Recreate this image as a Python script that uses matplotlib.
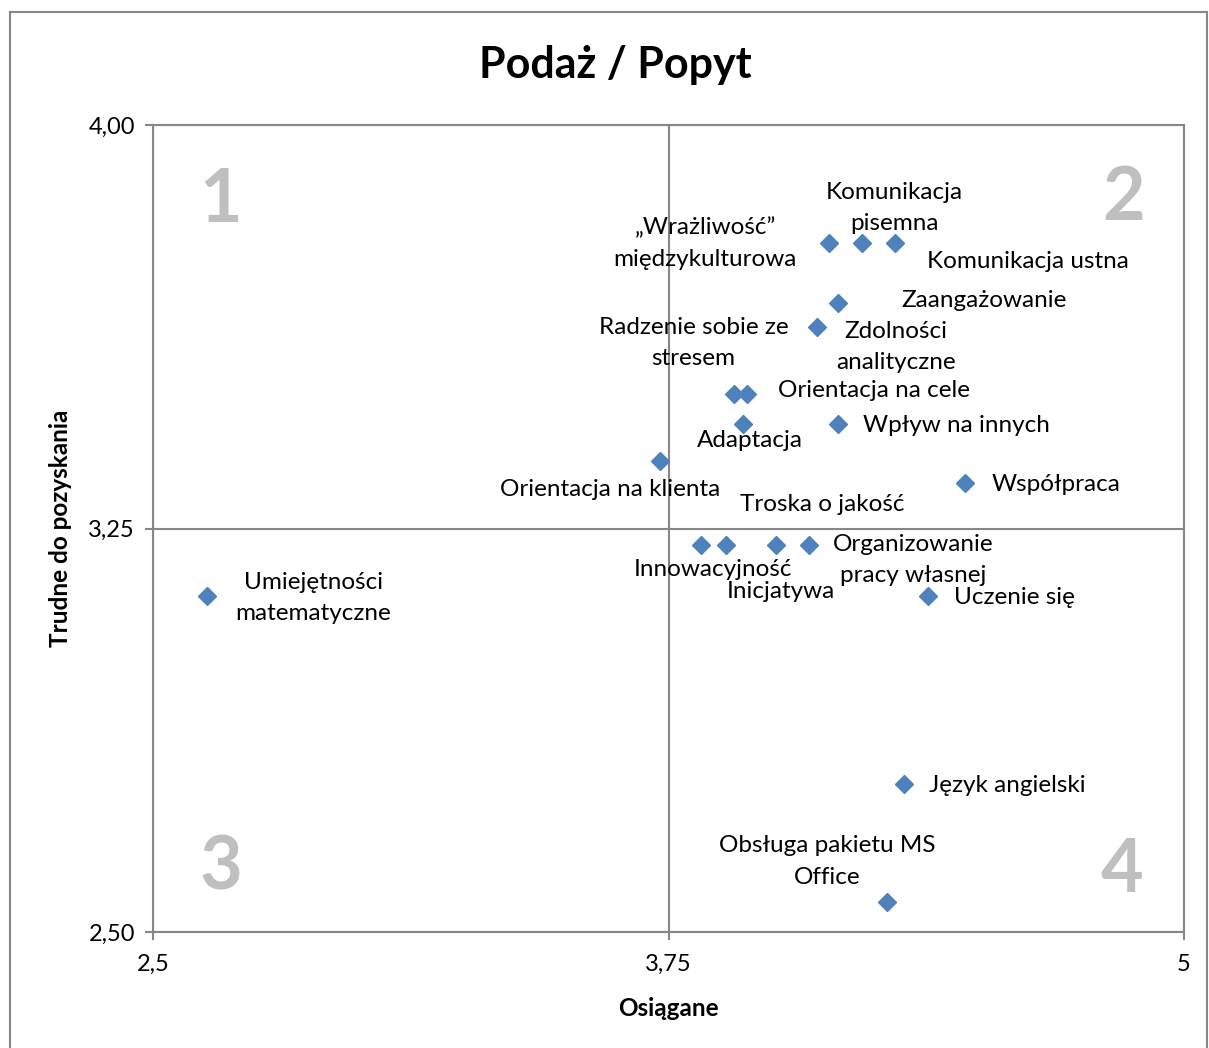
import matplotlib
matplotlib.use("Agg")
import matplotlib.pyplot as plt
from matplotlib.patches import Rectangle

plt.rcParams['font.family'] = ['Lato', 'DejaVu Sans']

labels = [
    "„Wrażliwość”\nmiędzykulturowa", "Komunikacja\npisemna", "Komunikacja ustna",
    "Zaangażowanie", "Zdolności\nanalityczne", "Radzenie sobie ze\nstresem",
    "Orientacja na cele", "Adaptacja", "Wpływ na innych", "Orientacja na klienta",
    "Współpraca", "Innowacyjność", "Troska o jakość", "Inicjatywa",
    "Organizowanie\npracy własnej", "Uczenie się", "Umiejętności\nmatematyczne",
    "Język angielski", "Obsługa pakietu MS\nOffice",
]
osiagane = [4.14, 4.22, 4.30, 4.16, 4.11, 3.91, 3.94, 3.93, 4.16, 3.73,
            4.47, 3.83, 3.89, 4.01, 4.09, 4.38, 2.63, 4.32, 4.28]
trudne = [3.78, 3.78, 3.78, 3.67, 3.625, 3.50, 3.50, 3.445, 3.445, 3.375,
          3.335, 3.22, 3.22, 3.22, 3.22, 3.125, 3.125, 2.775, 2.555]

# label offsets in pixels (dx right, dy down) from each point to the label centre
offsets_px = [(-124, 0), (32, -35), (133, 18), (146, -2), (79, 20), (-41, -51),
              (127, -3), (7, 17), (119, 2), (-50, 28), (91, 2), (12, 25),
              (96, -40), (5, 47), (104, 15), (86, 2), (107, 2), (104, 1), (-60, -41)]

x_ticks = [2.5, 3.75, 5.0]
x_ticklabels = ["2,5", "3,75", "5"]
y_ticks = [2.5, 3.25, 4.0]
y_ticklabels = ["2,50", "3,25", "4,00"]

W, H = 1209, 1048
fig = plt.figure(figsize=(W / 100, H / 100), dpi=100)
ax = fig.add_axes([153 / W, 1 - 932 / H, 1031 / W, 807 / H])

grey = "#878787"
ax.set_xlim(2.5, 5.0)
ax.set_ylim(2.5, 4.0)
ax.set_xticks(x_ticks)
ax.set_xticklabels(x_ticklabels)
ax.set_yticks(y_ticks)
ax.set_yticklabels(y_ticklabels)
ax.tick_params(axis='both', labelsize=17, color=grey, width=1.5, length=6,
               direction='out')
ax.tick_params(axis='x', pad=10)
ax.tick_params(axis='y', pad=7)
for s in ax.spines.values():
    s.set_color(grey)
    s.set_linewidth(1.5)
ax.grid(True, color=grey, linewidth=1.5)
ax.set_axisbelow(True)

ax.plot(osiagane, trudne, linestyle='none', marker='D', markersize=9,
        color="#4F81BD", zorder=3)

for x, y, t, (dx, dy) in zip(osiagane, trudne, labels, offsets_px):
    ax.annotate(t, (x, y), xytext=(dx * 0.72, -dy * 0.72), textcoords='offset points',
                ha='center', va='center', fontsize=17.5, linespacing=1.6, color='black')

# quadrant numbers
qcol = "#BFBFBF"
for t, (px, py) in zip(["1", "2", "3", "4"], [(221, 200), (1124, 198), (221, 868), (1122, 870)]):
    fig.text(px / W, 1 - py / H, t, fontsize=53, fontweight='bold', color=qcol,
             ha='center', va='center')

fig.text(615 / W, 1 - 65 / H, "Podaż / Popyt", fontsize=31, fontweight='bold',
         ha='center', va='center')
ax.set_xlabel("Osiągane", fontsize=17.5, fontweight='bold', labelpad=16)
ax.set_ylabel("Trudne do pozyskania", fontsize=17.5, fontweight='bold', labelpad=12)

fig.patches.append(Rectangle((10 / W, -0.05), (1197) / W, 1.05 - 12 / H,
                             transform=fig.transFigure, fill=False,
                             edgecolor=grey, linewidth=1.5))

fig.savefig("out.png", dpi=100, facecolor='white')
